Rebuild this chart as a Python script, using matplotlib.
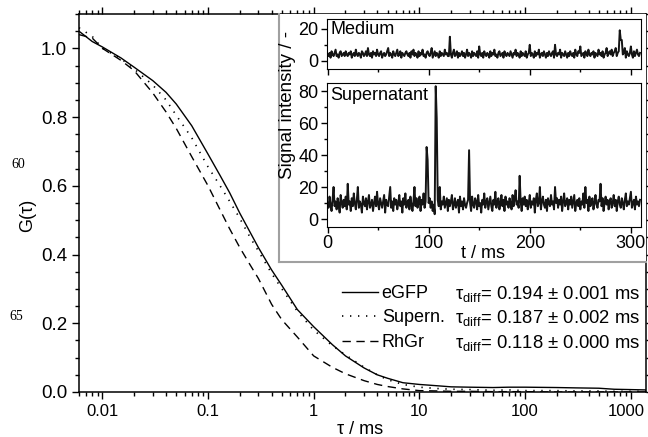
import numpy as np
import matplotlib.pyplot as plt
import matplotlib.transforms as mtransforms
from matplotlib.ticker import MultipleLocator, LogLocator, NullFormatter

plt.rcParams['font.family'] = ['Liberation Sans', 'DejaVu Sans']
plt.rcParams['mathtext.fontset'] = 'custom'
plt.rcParams['mathtext.rm'] = 'Liberation Sans'
plt.rcParams['mathtext.it'] = 'Liberation Sans:italic'

# correlation curves, tau in ms
tau = [0.006, 0.008, 0.01, 0.015, 0.02, 0.03, 0.04, 0.05, 0.07, 0.1, 0.13, 0.16,
       0.2, 0.25, 0.3, 0.4, 0.5, 0.7, 1, 1.5, 2, 3, 4, 5, 7, 10, 15, 20, 30, 50,
       70, 100, 200, 300, 500, 700, 1000, 1400]
g_egfp = [1.05, 1.02, 1.004, 0.972, 0.945, 0.906, 0.872, 0.838, 0.775, 0.692, 0.63, 0.58,
          0.52, 0.465, 0.42, 0.355, 0.31, 0.24, 0.19, 0.138, 0.105, 0.07, 0.05, 0.04,
          0.027, 0.022, 0.018, 0.015, 0.014, 0.013, 0.014, 0.014, 0.013, 0.012, 0.011,
          0.008, 0.007, 0.006]
g_supern = [1.06, 1.035, 1.0, 0.97, 0.94, 0.893, 0.85, 0.805, 0.74, 0.655, 0.6, 0.555,
            0.505, 0.45, 0.41, 0.345, 0.3, 0.235, 0.18, 0.135, 0.108, 0.072, 0.05, 0.036,
            0.022, 0.014, 0.01, 0.008, 0.007, 0.005, 0.006, 0.004, 0.004, 0.003, 0.003,
            0.002, 0.002, 0.002]
g_rhgr = [1.04, 1.03, 1.0, 0.965, 0.935, 0.87, 0.815, 0.767, 0.685, 0.6, 0.53, 0.475,
          0.42, 0.37, 0.33, 0.255, 0.21, 0.16, 0.105, 0.072, 0.053, 0.033, 0.022, 0.016,
          0.009, 0.004, 0.003, 0.002, 0.002, 0.001, 0.001, 0.001, 0.0, 0.0, 0.0,
          0.0, 0.0, 0.0]

labels = ['eGFP', 'Supern.', 'RhGr']
tau_diff = ['0.194 ± 0.001', '0.187 ± 0.002', '0.118 ± 0.000']

# intensity traces, 1 ms bins
medium = [4,3,5,2,6,4,3,5,7,3,4,2,5,6,3,4,5,3,6,4,
          3,5,4,6,2,4,5,3,7,4,3,5,4,2,6,5,3,4,6,3,
          8,4,3,5,2,6,4,5,3,7,4,3,5,6,2,4,5,3,4,6,
          8,3,5,4,2,6,4,3,5,7,3,4,6,2,5,4,3,5,6,4,
          3,5,2,6,4,7,3,5,4,2,6,3,5,4,7,3,4,2,5,6,
          4,3,5,8,2,4,6,3,5,4,2,6,3,5,4,3,7,4,5,3,
          3,15,4,2,5,7,3,4,6,2,5,3,4,6,3,5,2,4,7,3,
          5,4,2,6,3,5,4,3,6,2,9,4,3,5,2,6,4,3,5,4,
          2,6,3,5,4,7,3,4,2,5,6,3,4,5,2,6,4,3,5,4,
          3,6,4,2,5,4,7,3,5,4,2,6,3,5,4,3,6,2,4,5,
          10,3,5,4,2,6,3,5,4,7,2,4,5,3,6,4,2,5,3,6,
          4,3,5,6,2,10,4,3,5,4,7,2,5,4,3,6,4,2,5,3,
          6,4,3,5,2,7,4,3,6,5,9,3,4,5,2,6,4,3,7,4,
          3,5,4,6,2,5,4,3,7,4,5,3,6,2,4,5,8,3,5,6,
          4,7,3,5,6,8,3,5,6,19,13,13,4,5,8,2,6,4,3,5,
          9,4,2,6,3,5,7,4,3,5]
supernatant = [10,7,14,9,5,12,20,8,11,6,13,9,4,15,10,7,12,8,14,6,
               22,9,11,5,13,8,16,10,6,12,20,7,11,9,4,14,10,8,13,6,
               11,15,7,9,12,5,10,14,8,17,9,6,13,10,7,11,15,4,12,9,
               8,14,20,7,11,5,13,9,12,6,10,15,8,11,4,13,9,16,7,10,
               12,6,14,9,5,11,20,8,13,7,10,14,5,12,9,16,7,11,45,37,
               10,13,7,11,5,9,3,83,63,12,8,20,6,11,9,14,7,10,13,5,
               12,8,11,15,6,9,13,7,10,12,4,14,8,11,6,13,9,7,10,12,
               43,10,5,14,9,7,13,11,6,15,8,10,4,12,9,16,7,11,13,6,
               10,14,8,5,12,9,17,7,11,13,6,10,15,8,12,5,14,9,11,7,
               13,10,6,15,8,12,18,9,11,7,27,11,5,13,9,14,8,12,6,10,
               15,7,11,9,13,4,12,16,8,10,20,6,11,14,9,7,12,5,13,10,
               8,15,9,11,6,20,10,13,7,12,9,14,5,11,16,8,10,13,6,12,
               9,14,7,11,15,5,10,12,8,13,6,11,9,16,7,20,10,12,5,14,
               8,11,13,6,10,15,9,7,12,11,22,8,13,5,10,14,9,12,6,11,
               13,7,10,15,8,12,5,11,14,9,7,13,10,6,12,16,8,11,9,13,
               17,7,10,12,6,14,9,11,8,12]
t_ms = np.arange(len(medium))

W, H = 648, 437
fig = plt.figure(figsize=(W/100, H/100), dpi=100)

def box(x0, y0, x1, y1):
    # pixel box (top-left origin) -> figure rect
    return [x0/W, 1 - y1/H, (x1-x0)/W, (y1-y0)/H]

ax = fig.add_axes(box(79, 14, 646, 392))
l1, = ax.plot(tau, g_egfp, color='k', lw=1.0, ls='-')
l2, = ax.plot(tau, g_supern, color='k', lw=1.2, ls=(0, (0.8, 4)))
l3, = ax.plot(tau, g_rhgr, color='k', lw=1.0, ls=(0, (6, 4)))
ax.set_xscale('log')
ax.set_xlim(0.006, 1400)
ax.set_ylim(0, 1.1)
ax.set_xticks([0.01, 0.1, 1, 10, 100, 1000])
ax.set_xticklabels(['0.01', '0.1', '1', '10', '100', '1000'])
ax.xaxis.set_minor_locator(LogLocator(base=10, subs=np.arange(2, 10)))
ax.xaxis.set_minor_formatter(NullFormatter())
ax.set_yticks([0.0, 0.2, 0.4, 0.6, 0.8, 1.0])
ax.set_yticklabels(['0.0', '0.2', '0.4', '0.6', '0.8', '1.0'])
ax.yaxis.set_minor_locator(MultipleLocator(0.05))
ax.tick_params(which='both', direction='out', top=True, right=True, width=1)
ax.tick_params(axis='x', labelsize=12)
ax.tick_params(axis='y', labelsize=13.5)
ax.tick_params(which='major', length=5)
ax.tick_params(which='minor', length=3)
for s in ax.spines.values():
    s.set_linewidth(1.1)
# keep the last tick label inside the picture
last = ax.get_xticklabels()[-1]
last.set_transform(last.get_transform() +
                   mtransforms.ScaledTranslation(-4/100, 0, fig.dpi_scale_trans))

leg = ax.legend([l1, l2, l3], labels, loc='center left', frameon=False, fontsize=13,
                bbox_to_anchor=(342/W, 1 - 318/H), bbox_transform=fig.transFigure,
                borderpad=0, borderaxespad=0, handlelength=2.0, handletextpad=0.2,
                labelspacing=0.42)
for y, td in zip([294, 318, 343], tau_diff):
    fig.text(455/W, 1 - y/H, r'$\mathrm{τ}_{\mathrm{diff}}$= ' + td + ' ms',
             fontsize=13.3, ha='left', va='center')

fig.text(360/W, 1 - 430/H, 'τ / ms', fontsize=13, ha='center', va='center')
fig.text(28/W, 1 - 215/H, 'G(τ)', fontsize=13, ha='center', va='center', rotation=90)
fig.text(18/W, 1 - 164/H, '60', fontsize=10, family='Liberation Serif', ha='center', va='center')
fig.text(16/W, 1 - 316/H, '65', fontsize=10, family='Liberation Serif', ha='center', va='center')

# inset frame
fa = fig.add_axes(box(279, 14, 646, 262))
fa.set_xticks([])
fa.set_yticks([])
for k, s in fa.spines.items():
    s.set_color('#a0a0a0')
    s.set_linewidth(1.5)
fa.spines['top'].set_visible(False)
fa.spines['right'].set_visible(False)

ax1 = fig.add_axes(box(327, 19, 641, 69))
ax1.plot(t_ms, medium, color='#151515', lw=1.4)
ax1.set_xlim(-0.5, 310)
ax1.set_ylim(-5, 26)
ax1.set_yticks([0, 20])
ax1.yaxis.set_minor_locator(MultipleLocator(10))
ax1.set_xticks([0, 100, 200, 300])
ax1.xaxis.set_minor_locator(MultipleLocator(50))
ax1.set_xticklabels([])
ax1.tick_params(which='both', direction='out', labelsize=13, width=1, pad=2)
ax1.tick_params(which='major', length=4)
ax1.tick_params(which='minor', length=2.5)
ax1.text(0.01, 0.97, 'Medium', transform=ax1.transAxes, fontsize=13, ha='left', va='top')

ax2 = fig.add_axes(box(327, 83, 641, 227))
ax2.plot(t_ms, supernatant, color='#151515', lw=1.4)
ax2.set_xlim(-0.5, 310)
ax2.set_ylim(-5, 85)
ax2.set_yticks([0, 20, 40, 60, 80])
ax2.yaxis.set_minor_locator(MultipleLocator(10))
ax2.set_xticks([0, 100, 200, 300])
ax2.xaxis.set_minor_locator(MultipleLocator(50))
ax2.tick_params(which='both', direction='out', labelsize=13, width=1, pad=2)
ax2.tick_params(which='major', length=4)
ax2.tick_params(which='minor', length=2.5)
ax2.text(0.01, 0.97, 'Supernatant', transform=ax2.transAxes, fontsize=13, ha='left', va='top')

fig.text(288/W, 1 - 105/H, 'Signal intensity / -', fontsize=13.5, ha='center', va='center', rotation=90)
fig.text(483/W, 1 - 253/H, 't / ms', fontsize=13, ha='center', va='center')

fig.savefig('out.png', dpi=100)
